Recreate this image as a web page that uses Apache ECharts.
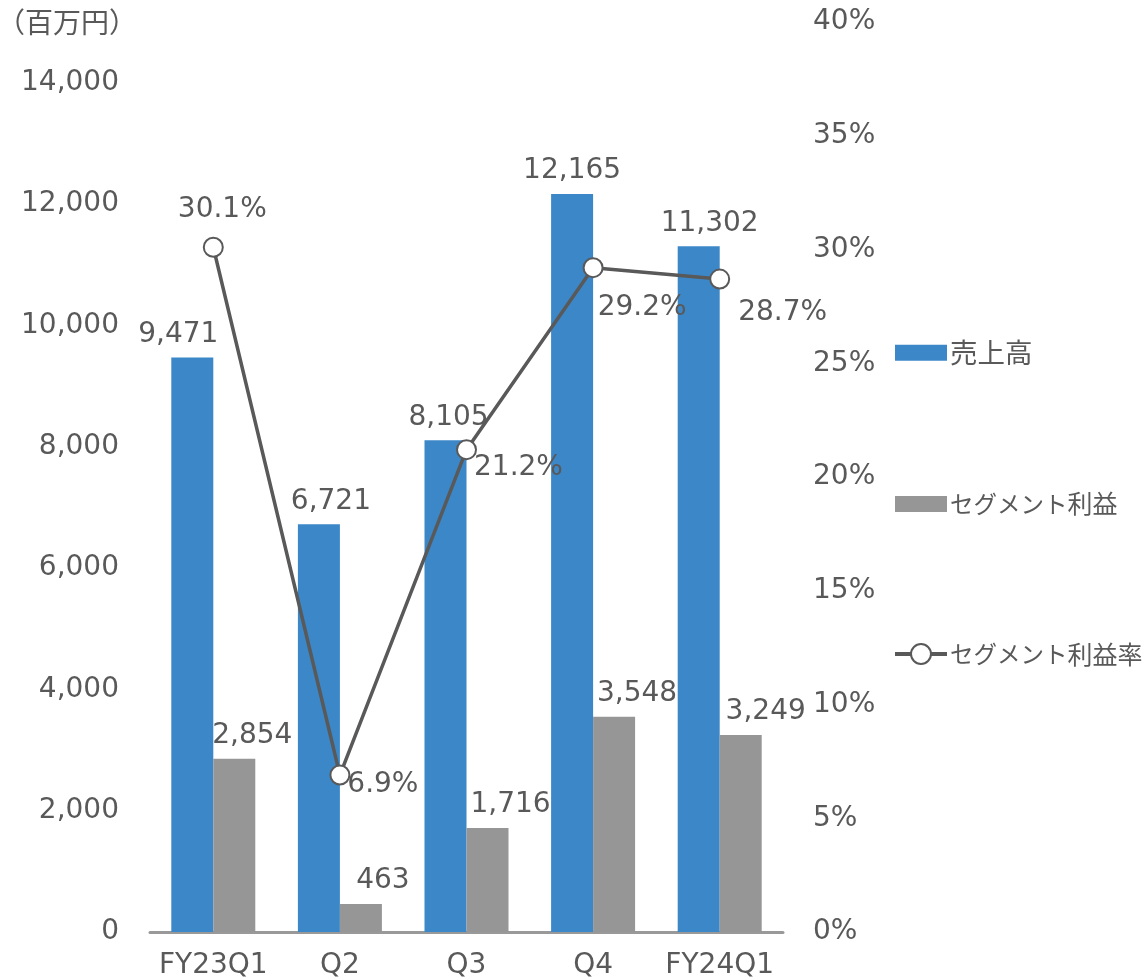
<!DOCTYPE html>
<html>
<head>
<meta charset="utf-8">
<script src="https://cdn.jsdelivr.net/npm/echarts@6/dist/echarts.min.js"></script>
<style>
html,body{margin:0;padding:0;background:#fff;}
#chart{width:1144px;height:980px;}
</style>
</head>
<body>
<div id="chart"></div>
<script>
var categories = ['FY23Q1', 'Q2', 'Q3', 'Q4', 'FY24Q1'];
var sales = [9471, 6721, 8105, 12165, 11302];
var profit = [2854, 463, 1716, 3548, 3249];
var margin = [30.1, 6.9, 21.2, 29.2, 28.7];
var seriesNames = ['売上高', 'セグメント利益', 'セグメント利益率'];
var unitLabel = '（百万円）';

// label placement tweaks (pixels)
var salesLabelOffsets = [[-14, 0], [12, 0], [3, 0], [0, 0], [11, 0]];
var profitLabelOffsets = [[18, 0], [22, 0], [23, 0], [23, 0], [25, 0]];
var marginLabelOffsets = [[9, -38], [43, 10], [52, 18], [49, 40], [63, 34]];

var textColor = '#595959';
var fontFam = '"DejaVu Sans", "Noto Sans CJK JP", sans-serif';
var cjkFam = '"Noto Sans CJK JP", sans-serif';
var fs = 28;

function fmtNum(v) { return Number(v).toLocaleString('en-US'); }

// legend text: names with katakana use slightly narrower glyphs (proportional kana look)
function legendFmt(name) {
  var hasKana = /[\u30A0-\u30FF]/.test(name);
  if (!hasKana) return '{n|' + name + '}';
  var out = '', cur = '', curType = null;
  for (var i = 0; i < name.length; i++) {
    var c = name.charCodeAt(i);
    var t = (c >= 0x30A0 && c <= 0x30FF) ? 'k' : 'm';
    if (t !== curType && cur) { out += '{' + curType + '|' + cur + '}'; cur = ''; }
    curType = t; cur += name[i];
  }
  if (cur) out += '{' + curType + '|' + cur + '}';
  return out;
}

var chart = echarts.init(document.getElementById('chart'));
var option = {
  backgroundColor: '#fff',
  animation: false,
  textStyle: { fontFamily: fontFam, color: textColor },
  graphic: [{
    type: 'text', left: -3, top: 12,
    style: { text: unitLabel, font: fs + 'px ' + fontFam, fill: textColor }
  }],
  legend: {
    orient: 'vertical', left: 893, top: 339, padding: 0,
    itemWidth: 52, itemHeight: 25, itemGap: 125,
    symbolKeepAspect: true,
    formatter: legendFmt,
    textStyle: {
      color: textColor, fontFamily: cjkFam, fontSize: fs, padding: [0, 0, 0, -2],
      rich: {
        k: { fontSize: 23.5, color: textColor, fontFamily: cjkFam, height: 34 },
        m: { fontSize: 25, color: textColor, fontFamily: cjkFam, height: 34 },
        n: { fontSize: 27.5, color: textColor, fontFamily: cjkFam, height: 34 }
      }
    },
    lineStyle: { width: 4, color: '#595959' },
    data: [
      { name: seriesNames[0], icon: 'path://M0,0H52V16H0Z' },
      { name: seriesNames[1], icon: 'path://M0,0H52V16H0Z' },
      { name: seriesNames[2] }
    ]
  },
  grid: { left: 150, right: 361, top: 22, bottom: 48, containLabel: false },
  xAxis: {
    type: 'category', data: categories,
    axisLine: { lineStyle: { color: '#999999', width: 3 } },
    axisTick: { show: false },
    axisLabel: { interval: 0, fontSize: fs, color: textColor, margin: 20, fontFamily: fontFam }
  },
  yAxis: [{
    type: 'value', min: 0, max: 15000, interval: 2000,
    splitLine: { show: false }, axisLine: { show: false }, axisTick: { show: false },
    axisLabel: { fontSize: fs, color: textColor, margin: 31, showMaxLabel: false,
      fontFamily: fontFam,
      formatter: function (v) { return v > 14000 ? '' : fmtNum(v); } }
  }, {
    type: 'value', min: 0, max: 40, interval: 5,
    splitLine: { show: false }, axisLine: { show: false }, axisTick: { show: false },
    axisLabel: { fontSize: fs, color: textColor, margin: 30, fontFamily: fontFam,
      formatter: function (v) { return v + '%'; } }
  }],
  series: [{
    name: seriesNames[0], type: 'bar', yAxisIndex: 0,
    barWidth: 42, barGap: '0%',
    itemStyle: { color: '#3c87c8' },
    label: { show: true, position: 'top', distance: 9, fontSize: fs, color: textColor, fontFamily: fontFam,
      formatter: function (p) { return fmtNum(p.value); } },
    data: sales.map(function (v, i) { return { value: v, label: { offset: salesLabelOffsets[i] } }; })
  }, {
    name: seriesNames[1], type: 'bar', yAxisIndex: 0,
    barWidth: 42, barGap: '0%',
    itemStyle: { color: '#969696' },
    label: { show: true, position: 'top', distance: 9, fontSize: fs, color: textColor, fontFamily: fontFam,
      formatter: function (p) { return fmtNum(p.value); } },
    data: profit.map(function (v, i) { return { value: v, label: { offset: profitLabelOffsets[i] } }; })
  }, {
    name: seriesNames[2], type: 'line', yAxisIndex: 1,
    symbol: 'circle', symbolSize: 19,
    lineStyle: { color: '#595959', width: 3.5 },
    itemStyle: { color: '#ffffff', borderColor: '#595959', borderWidth: 2 },
    label: { show: true, position: 'inside', fontSize: fs, color: textColor, fontFamily: fontFam,
      formatter: function (p) { return Number(p.value).toFixed(1) + '%'; } },
    z: 5,
    data: margin.map(function (v, i) { return { value: v, label: { offset: marginLabelOffsets[i] } }; })
  }]
};
chart.setOption(option);
</script>
</body>
</html>
